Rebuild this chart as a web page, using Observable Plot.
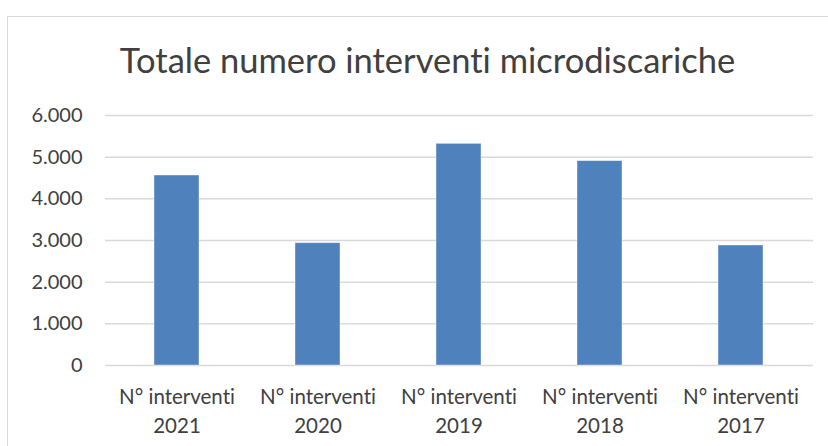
<!DOCTYPE html>
<html>
<head>
<meta charset="utf-8">
<script src="https://cdn.jsdelivr.net/npm/d3@7"></script>
<script src="https://cdn.jsdelivr.net/npm/@observablehq/plot@0.6"></script>
<style>
  html, body { margin: 0; padding: 0; background: #fff; }
  #wrap { position: relative; width: 828px; height: 446px; overflow: hidden; font-family: Lato, "Open Sans", sans-serif; font-variant-ligatures: none; font-feature-settings: "liga" 0, "clig" 0; }
  #wrap svg, #wrap svg text { font-variant-ligatures: none; font-feature-settings: "liga" 0, "clig" 0; }
  #frame { position: absolute; left: 7px; top: 16px; width: 840px; height: 460px; border: 1.5px solid #d9d9d9; box-sizing: border-box; }
  #title { position: absolute; left: 0; width: 855px; top: 39px; text-align: center; font-size: 34.5px; color: #404040; line-height: 42px; white-space: nowrap; }
  #chart { position: absolute; left: 0; top: 0; }
</style>
</head>
<body>
<div id="wrap">
  <div id="frame"></div>
  <div id="title">Totale numero interventi microdiscariche</div>
  <div id="chart"></div>
</div>
<script>
const titleText = "Totale numero interventi microdiscariche";
const categories = ["N° interventi 2021", "N° interventi 2020", "N° interventi 2019", "N° interventi 2018", "N° interventi 2017"];
const values = [4560, 2935, 5320, 4905, 2880];
const yTicks = [0, 1000, 2000, 3000, 4000, 5000, 6000];

const data = categories.map((c, i) => ({category: c, value: values[i]}));
const itFormat = d3.formatLocale({decimal: ",", thousands: ".", grouping: [3], currency: ["", " €"]}).format(",d");

const chart = Plot.plot({
  width: 828,
  height: 446,
  marginLeft: 105,
  marginRight: 15,
  marginTop: 115,
  marginBottom: 81,
  style: {fontFamily: "Lato, 'Open Sans', sans-serif", fontSize: "20px", color: "#404040", background: "transparent"},
  x: {domain: categories, paddingInner: 0.68, paddingOuter: 0.34, label: null},
  y: {domain: [0, 6000], label: null},
  marks: [
    Plot.ruleY(yTicks, {stroke: "#d9d9d9", strokeWidth: 1.5}),
    Plot.barY(data, {x: "category", y: "value", fill: "#4f81bd", stroke: "#ffffff", strokeWidth: 0.8, strokeOpacity: 0.5}),
    Plot.axisY({ticks: yTicks, tickFormat: itFormat, tickSize: 0, tickPadding: 23, fontSize: 20, fill: "#404040", label: null}),
    Plot.axisX({tickSize: 0, tickPadding: 17, fontSize: 20.5, lineHeight: 1.45, fill: "#404040", label: null,
      tickFormat: d => d.replace(/ (\d{4})$/, "\n$1")})
  ]
});
document.getElementById("chart").appendChild(chart);
</script>
</body>
</html>
